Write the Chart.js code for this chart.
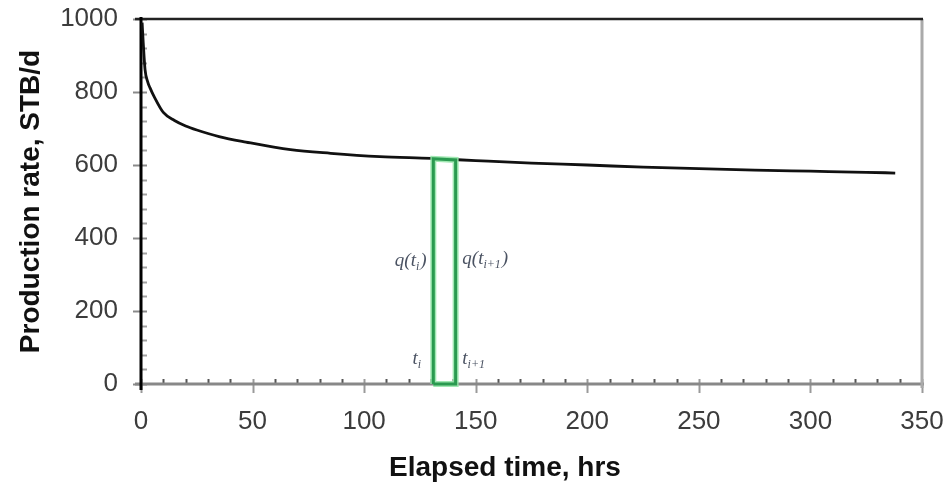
<!DOCTYPE html>
<html>
<head>
<meta charset="utf-8">
<script src="https://cdn.jsdelivr.net/npm/chart.js@4/dist/chart.umd.min.js"></script>
<style>
  html,body{margin:0;padding:0;background:#fff;}
  #wrap{width:944px;height:488px;position:relative;}
</style>
</head>
<body>
<div id="wrap"><canvas id="c" width="944" height="488"></canvas></div>
<script>
// ---- data ----
const timeHrs = [0.5, 1, 1.8, 3, 4, 6, 10, 15, 20, 25, 35, 47, 67, 85, 107, 130, 150, 175, 200, 225, 250, 275, 300, 325, 338];
const rateStb = [990, 935, 862, 828, 812, 786, 744, 722, 707, 696, 678, 663, 642, 632, 623, 618, 612, 605, 600, 594, 590, 586, 583, 580, 578];
const rectTime = [131, 131, 141, 141, 131];
const rectRate = [0, 617, 614, 0, 0];
const xTickValues = [0, 50, 100, 150, 200, 250, 300, 350];
const yTickValues = [0, 200, 400, 600, 800, 1000];
const xTitle = 'Elapsed time, hrs';
const yTitle = 'Production rate, STB/d';
// annotation labels
const annoMain = ['q(t', 'q(t', 't', 't'];
const annoSub = ['i', 'i+1', 'i', 'i+1'];
const annoClose = [')', ')', '', ''];
const annoTime = [128, 144, 126, 144];
const annoRate = [340, 344, 72, 72];
const annoAlign = ['right', 'left', 'right', 'left'];

const curvePts = timeHrs.map((t, i) => ({x: t, y: rateStb[i]}));
const rectPts = rectTime.map((t, i) => ({x: t, y: rectRate[i]}));

const frame = {
  id: 'frame',
  beforeDatasetsDraw(chart) {
    const {ctx, chartArea: a, scales: {x, y}} = chart;
    ctx.save();
    ctx.lineCap = 'butt';
    for (let v = 0; v <= 1000; v += 40) {
      const py = Math.round(y.getPixelForValue(v)) + 0.5;
      const major = v % 200 === 0;
      ctx.strokeStyle = major ? '#8a8a8a' : '#a0a0a0';
      ctx.lineWidth = 2;
      ctx.beginPath();
      ctx.moveTo(major ? a.left - 8 : a.left, py);
      ctx.lineTo(a.left + 6, py);
      ctx.stroke();
    }
    for (let v = 0; v <= 350; v += 10) {
      const px = Math.round(x.getPixelForValue(v)) + 0.5;
      const major = v % 50 === 0;
      ctx.strokeStyle = major ? '#9a9a9a' : '#555';
      ctx.lineWidth = 2;
      ctx.beginPath();
      ctx.moveTo(px, a.bottom - 5);
      ctx.lineTo(px, major ? a.bottom + 9 : a.bottom);
      ctx.stroke();
    }
    ctx.lineWidth = 3;
    ctx.strokeStyle = '#888';
    ctx.beginPath(); ctx.moveTo(a.left - 6, a.bottom); ctx.lineTo(a.right + 2, a.bottom); ctx.stroke();
    ctx.strokeStyle = '#aaa';
    ctx.beginPath(); ctx.moveTo(a.right, a.top); ctx.lineTo(a.right, a.bottom + 4); ctx.stroke();
    ctx.strokeStyle = '#222';
    ctx.lineWidth = 2.5;
    ctx.beginPath(); ctx.moveTo(a.left - 6, a.top); ctx.lineTo(a.right + 1, a.top); ctx.stroke();
    ctx.strokeStyle = '#000';
    ctx.lineWidth = 3;
    ctx.beginPath(); ctx.moveTo(a.left, a.top - 2); ctx.lineTo(a.left, a.bottom + 6); ctx.stroke();
    ctx.restore();
  },
  afterDraw(chart) {
    const {ctx, scales: {x, y}} = chart;
    ctx.save();
    ctx.font = 'bold 28px "Liberation Sans", Arial, sans-serif';
    ctx.fillStyle = '#111';
    ctx.textAlign = 'center';
    ctx.textBaseline = 'middle';
    ctx.fillText(xTitle, 505, 468);
    ctx.fillStyle = '#4a5262';
    ctx.textBaseline = 'alphabetic';
    ctx.textAlign = 'left';
    const mainFont = 'italic 19px "Liberation Serif", serif';
    const subFont = 'italic 12px "Liberation Serif", serif';
    for (let i = 0; i < annoMain.length; i++) {
      const px = x.getPixelForValue(annoTime[i]);
      const py = y.getPixelForValue(annoRate[i]) + 6;
      ctx.font = mainFont; const w1 = ctx.measureText(annoMain[i]).width;
      const w3 = ctx.measureText(annoClose[i]).width;
      ctx.font = subFont; const w2 = ctx.measureText(annoSub[i]).width;
      const total = w1 + w2 + w3 + 1;
      const sx = annoAlign[i] === 'right' ? px - total : px;
      ctx.font = mainFont; ctx.fillText(annoMain[i], sx, py);
      ctx.font = subFont; ctx.fillText(annoSub[i], sx + w1, py + 4);
      ctx.font = mainFont; ctx.fillText(annoClose[i], sx + w1 + w2 + 1, py);
    }
    ctx.restore();
  }
};

new Chart(document.getElementById('c'), {
  type: 'line',
  data: {
    datasets: [
      {data: rectPts, borderColor: '#2a9a50', borderWidth: 3, pointRadius: 0, tension: 0, clip: 6, fill: false},
      {data: rectPts, borderColor: 'rgba(150,230,170,0.9)', borderWidth: 6, pointRadius: 0, tension: 0, clip: 6, fill: false},
      {data: curvePts, borderColor: '#111', borderWidth: 2.8, pointRadius: 0, cubicInterpolationMode: 'monotone', fill: false}
    ]
  },
  options: {
    responsive: false,
    animation: false,
    layout: {padding: {top: 19, right: 22, left: 0, bottom: 0}},
    plugins: {legend: {display: false}, tooltip: {enabled: false}},
    scales: {
      x: {
        type: 'linear', min: 0, max: 350,
        afterFit: s => { s.height = 104; s.paddingLeft = 0; s.paddingRight = 0; },
        afterBuildTicks: s => { s.ticks = xTickValues.map(v => ({value: v})); },
        grid: {display: false, drawTicks: false},
        border: {display: false},
        ticks: {padding: 22, color: '#3c3c3c', callback: v => String(v),
                font: {family: '"Liberation Sans", Arial, sans-serif', size: 26}}
      },
      y: {
        type: 'linear', min: 0, max: 1000,
        afterFit: s => { s.width = 141; s.paddingTop = 0; s.paddingBottom = 0; },
        afterBuildTicks: s => { s.ticks = yTickValues.map(v => ({value: v})); },
        grid: {display: false, drawTicks: false},
        border: {display: false},
        ticks: {padding: 23, color: '#3c3c3c', callback: v => String(v),
                font: {family: '"Liberation Sans", Arial, sans-serif', size: 26}},
        title: {display: true, text: yTitle, color: '#111', padding: {top: 14, bottom: 0},
                font: {family: '"Liberation Sans", Arial, sans-serif', size: 28, weight: 'bold'}}
      }
    }
  },
  plugins: [frame]
});
</script>
</body>
</html>
